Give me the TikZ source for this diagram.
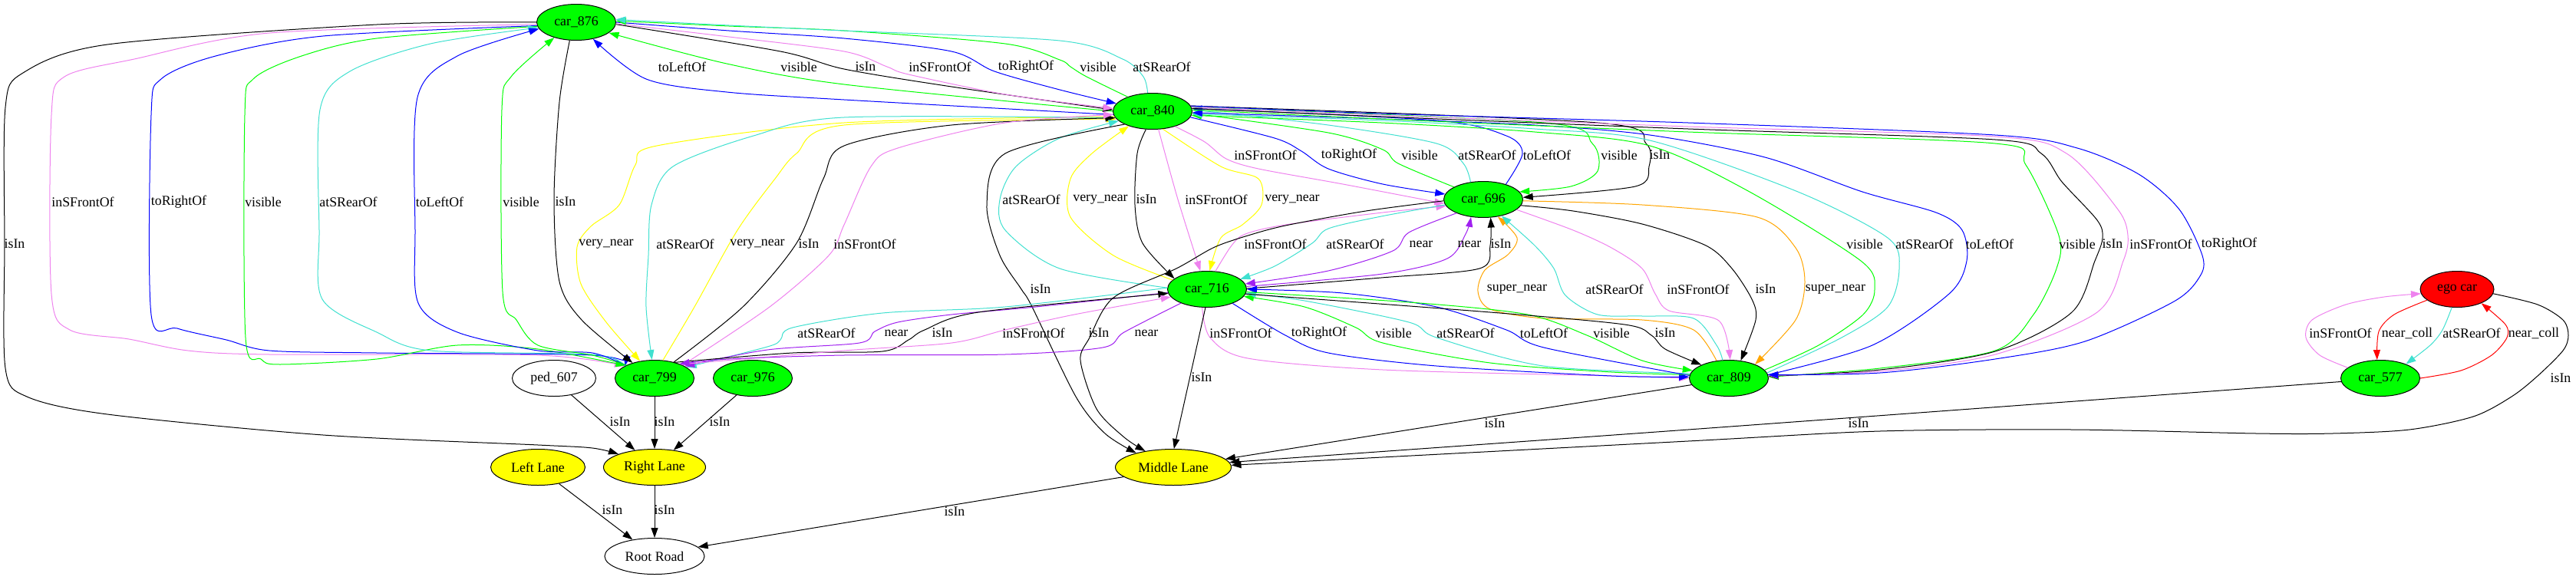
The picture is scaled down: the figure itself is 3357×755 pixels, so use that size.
\documentclass[tikz,border=0pt]{standalone}
\usepackage{fontspec}
\setmainfont{Liberation Serif}
\usetikzlibrary{shapes.geometric,arrows.meta}
\definecolor{grn}{RGB}{0,255,0}
\definecolor{blu}{RGB}{0,0,255}
\definecolor{vio}{RGB}{238,130,238}
\definecolor{tur}{RGB}{64,224,208}
\definecolor{yel}{RGB}{255,255,0}
\definecolor{pur}{RGB}{160,32,240}
\definecolor{org}{RGB}{255,165,0}
\definecolor{rd}{RGB}{255,0,0}
\newcommand\gvfont{\fontsize{17.8}{20}\selectfont}
\begin{document}
\begin{tikzpicture}[x=1pt,y=-1pt,
 rel/.style={line width=1pt,-{Triangle[length=13pt,width=9pt]}},
 lbl/.style={font=\gvfont, inner sep=0pt, anchor=center},
 gnode/.style={ellipse, draw, line width=1pt, minimum height=47pt, inner sep=0pt, font=\gvfont},
 car/.style={gnode, fill=grn, minimum width=103pt},
 lane/.style={gnode, fill=yel},
 wnode/.style={gnode, fill=white},
 egon/.style={gnode, fill=rd, minimum width=96pt}]
\useasboundingbox (0,0) rectangle (3357,755);
% nodes
\node[car] (n876) at (751,29) {car\_876};
\node[car] (n840) at (1502,145) {car\_840};
\node[car] (n696) at (1933,260) {car\_696};
\node[car] (n716) at (1573,377) {car\_716};
\node[car] (n799) at (853,493) {car\_799};
\node[wnode, minimum width=109pt] (n607) at (722,493) {ped\_607};
\node[car] (n976) at (981,493) {car\_976};
\node[car] (n809) at (2253,493) {car\_809};
\node[egon] (nego) at (3202,377) {ego car};
\node[car] (n577) at (3102,493) {car\_577};
\node[lane, minimum width=123pt] (nll) at (701,609) {Left Lane};
\node[lane, minimum width=133pt] (nrl) at (853,609) {Right Lane};
\node[lane, minimum width=151pt] (nml) at (1529,609) {Middle Lane};
\node[wnode, minimum width=130pt] (nroot) at (853,725) {Root Road};

% Bundle A: car_876 <-> car_799 (left)
\draw[rel,black] plot[smooth] coordinates {(n876.180) (491,32) (140,58) (30,95) (7,140) (6,318) (7,480) (35,517) (140,540) (421,567) (701,580) (772,584) (nrl.160)};
\draw[rel,vio] plot[smooth] coordinates {(n876.183) (351,43) (175,77) (84,100) (67,150) (67,383) (91,430) (168,442) (245,457) (351,462) (700,463) (n799.158)};
\draw[rel,blu] plot[smooth] coordinates {(n876.185) (421,47) (281,73) (210,103) (197,150) (197,410) (231,428) (295,443) (351,457) (491,460) (772,463) (n799.157)};
\draw[rel,grn] plot[smooth] coordinates {(n876.186) (491,50) (393,73) (330,103) (319,150) (320,440) (340,468) (365,475) (491,468) (596,450) (701,455) (n799.156)};
\draw[rel,tur] plot[smooth] coordinates {(n799.157) (772,462) (561,457) (491,433) (420,390) (416,300) (417,143) (456,93) (561,57) (n876.188)};
\draw[rel,blu] plot[smooth] coordinates {(n799.156) (772,460) (701,457) (596,433) (545,395) (541,300) (544,127) (596,73) (n876.190)};
\draw[rel,grn] plot[smooth] coordinates {(n799.155) (772,463) (701,450) (673,417) (655,380) (654,143) (666,100) (n876.215)};
\draw[rel,black] plot[smooth] coordinates {(n876.250) (729,133) (722,260) (729,367) (758,417) (n799.145)};
\node[lbl] (a1) at (19,318) {isIn};
\node[lbl] (a2) at (108,263) {inSFrontOf};
\node[lbl] (a3) at (233,263) {toRightOf};
\node[lbl] (a4) at (343,263) {visible};
\node[lbl] (a5) at (454,263) {atSRearOf};
\node[lbl] (a6) at (573,263) {toLeftOf};
\node[lbl] (a7) at (679,263) {visible};
\node[lbl] (a8) at (737,263) {isIn};

% Bundle B: car_876 <-> car_840 (top)
\draw[rel,blu] plot[smooth] coordinates {(n840.185) (1100,130) (947,120) (842,103) (n876.315)};
\draw[rel,grn] plot[smooth] coordinates {(n840.180) (1100,110) (947,83) (n876.342)};
\draw[rel,black] plot[smooth] coordinates {(n876.357) (1017,67) (1100,90) (1240,113) (n840.178)};
\draw[rel,vio] plot[smooth] coordinates {(n876.358) (950,48) (1100,67) (1156,87) (1184,97) (1310,123) (n840.176)};
\draw[rel,blu] plot[smooth] coordinates {(n876.0) (950,40) (1100,50) (1240,67) (1296,93) (1381,117) (n840.168)};
\draw[rel,grn] plot[smooth] coordinates {(n840.150) (1416,100) (1395,87) (1381,78) (1310,57) (1100,40) (950,34) (n876.2)};
\draw[rel,tur] plot[smooth] coordinates {(n840.105) (1490,100) (1463,77) (1381,53) (1100,40) (950,33) (n876.4)};
\node[lbl] (b1) at (889,87) {toLeftOf};
\node[lbl] (b2) at (1041,87) {visible};
\node[lbl] (b3) at (1128,87) {isIn};
\node[lbl] (b4) at (1225,87) {inSFrontOf};
\node[lbl] (b5) at (1337,87) {toRightOf};
\node[lbl] (b6) at (1431,87) {visible};
\node[lbl] (b7) at (1514,87) {atSRearOf};

% Bundle C: car_840 <-> car_799
\draw[rel,yel] plot[smooth] coordinates {(n840.188) (1100,160) (856,190) (828,215) (807,267) (770,295) (752,322) (757,370) (790,420) (n799.130)};
\draw[rel,tur] plot[smooth] coordinates {(n840.190) (1100,153) (982,177) (877,217) (849,267) (845,333) (842,400) (n799.98)};
\draw[rel,yel] plot[smooth] coordinates {(n799.65) (905,400) (961,300) (1010,233) (1038,200) (1100,163) (n840.192)};
\draw[rel,black] plot[smooth] coordinates {(n799.40) (968,400) (1038,317) (1073,233) (1100,190) (1240,163) (n840.190)};
\draw[rel,vio] plot[smooth] coordinates {(n799.25) (1003,400) (1080,333) (1100,293) (1135,217) (1170,193) (1310,160) (n840.185)};
\node[lbl] (c1) at (790,318) {very\_near};
\node[lbl] (c2) at (893,318) {atSRearOf};
\node[lbl] (c3) at (987,318) {very\_near};
\node[lbl] (c4) at (1054,318) {isIn};
\node[lbl] (c5) at (1127,318) {inSFrontOf};

% Bundle D: car_840 <-> car_716, car_840 -> Middle Lane
\draw[rel,tur] plot[smooth] coordinates {(n716.178) (1381,350) (1310,300) (1303,260) (1324,217) (1381,180) (n840.196)};
\draw[rel,yel] plot[smooth] coordinates {(n716.165) (1451,333) (1395,283) (1395,233) (1423,200) (n840.212)};
\draw[rel,black] plot[smooth] coordinates {(n840.250) (1482,200) (1479,267) (1489,317) (n716.162)};
\draw[rel,vio] plot[smooth] coordinates {(n840.288) (1535,260) (n716.110)};
\draw[rel,yel] plot[smooth] coordinates {(n840.300) (1591,217) (1640,233) (1644,267) (1619,293) (1591,310) (n716.82)};
\draw[rel,black] plot[smooth] coordinates {(n840.205) (1310,200) (1286,267) (1303,333) (1331,377) (1345,400) (1402,517) (1440,565) (nml.159)};
\node[lbl] (d1) at (1344,260) {atSRearOf};
\node[lbl] (d2) at (1434,260) {very\_near};
\node[lbl] (d3) at (1494,260) {isIn};
\node[lbl] (d4) at (1585,260) {inSFrontOf};
\node[lbl] (d5) at (1684,260) {very\_near};
\node[lbl] (d6) at (1356,377) {isIn};

% Bundle E: car_840 <-> car_696
\draw[rel,vio] plot[smooth] coordinates {(n840.326) (1570,185) (1598,207) (1640,220) (1750,240) (n696.186)};
\draw[rel,blu] plot[smooth] coordinates {(n840.351) (1661,180) (1696,197) (1731,220) (1802,240) (n696.172)};
\draw[rel,grn] plot[smooth] coordinates {(n696.157) (1822,213) (1802,195) (1731,173) (n840.357)};
\draw[rel,tur] plot[smooth] coordinates {(n696.126) (1907,213) (1872,187) (1731,163) (n840.2)};
\draw[rel,blu] plot[smooth] coordinates {(n696.34) (1984,200) (1963,177) (1872,157) (n840.4)};
\draw[rel,grn] plot[smooth] coordinates {(n840.6) (2012,160) (2075,187) (2082,223) (2047,243) (n696.12)};
\draw[rel,black] plot[smooth] coordinates {(n840.8) (2082,160) (2145,187) (2149,217) (2131,243) (n696.3)};
\node[lbl] (e1) at (1649,202) {inSFrontOf};
\node[lbl] (e2) at (1758,202) {toRightOf};
\node[lbl] (e3) at (1850,202) {visible};
\node[lbl] (e4) at (1938,202) {atSRearOf};
\node[lbl] (e5) at (2016,202) {toLeftOf};
\node[lbl] (e6) at (2110,202) {visible};
\node[lbl] (e7) at (2163,202) {isIn};

% Bundle F: car_840 <-> car_809 (right loops)
\draw[rel,grn] plot[smooth] coordinates {(n809.13) (2370,450) (2428,410) (2443,377) (2425,340) (2280,250) (2150,190) (2000,172) (1800,160) (n840.354)};
\draw[rel,tur] plot[smooth] coordinates {(n809.8) (2400,440) (2460,400) (2475,350) (2460,310) (2343,250) (2150,183) (2000,168) (1800,157) (n840.356)};
\draw[rel,blu] plot[smooth] coordinates {(n809.5) (2440,450) (2540,383) (2563,340) (2557,300) (2523,277) (2427,250) (2300,205) (2150,176) (2000,163) (1800,155) (n840.358)};
\draw[rel,grn] plot[smooth] coordinates {(n840.2) (1800,155) (2200,172) (2600,187) (2640,215) (2683,307) (2680,350) (2650,410) (2600,457) (2450,480) (n809.2)};
\draw[rel,black] plot[smooth] coordinates {(n840.4) (1800,152) (2200,168) (2600,182) (2660,200) (2687,237) (2733,287) (2740,310) (2730,340) (2700,407) (2600,458) (2450,482) (n809.3)};
\draw[rel,vio] plot[smooth] coordinates {(n840.6) (1800,150) (2200,165) (2600,178) (2693,200) (2760,273) (2773,307) (2767,340) (2733,407) (2600,462) (2450,484) (n809.4)};
\draw[rel,blu] plot[smooth] coordinates {(n840.8) (1800,148) (2200,160) (2600,176) (2707,193) (2787,227) (2840,273) (2870,333) (2867,360) (2833,393) (2717,445) (2600,468) (2450,486) (n809.5)};
\node[lbl] (f1) at (2430,318) {visible};
\node[lbl] (f2) at (2508,318) {atSRearOf};
\node[lbl] (f3) at (2593,318) {toLeftOf};
\node[lbl] (f4) at (2707,318) {visible};
\node[lbl] (f5) at (2753,318) {isIn};
\node[lbl] (f6) at (2816,318) {inSFrontOf};
\node[lbl] (f7) at (2905,318) {toRightOf};

% Bundle G: car_696 <-> car_809
\draw[rel,org] plot[smooth] coordinates {(n809.125) (2207,430) (2140,417) (2012,415) (1942,403) (1926,380) (1935,352) (1965,332) (1977,310) (n696.310)};
\draw[rel,tur] plot[smooth] coordinates {(n809.109) (2237,450) (2207,415) (2140,412) (2082,410) (2040,385) (2025,350) (2000,320) (n696.318)};
\draw[rel,vio] plot[smooth] coordinates {(n696.343) (2050,300) (2100,323) (2140,350) (2157,383) (2175,405) (2240,418) (n809.86)};
\draw[rel,black] plot[smooth] coordinates {(n696.351) (2050,275) (2140,292) (2223,320) (2257,350) (2283,390) (2288,417) (n809.56)};
\draw[rel,org] plot[smooth] coordinates {(n696.358) (2140,267) (2290,283) (2340,323) (2352,367) (2340,417) (n809.28)};
\node[lbl] (g1) at (1977,377) {super\_near};
\node[lbl] (g2) at (2104,377) {atSRearOf};
\node[lbl] (g3) at (2213,377) {inSFrontOf};
\node[lbl] (g4) at (2301,377) {isIn};
\node[lbl] (g5) at (2392,377) {super\_near};

% Bundle H: car_716 <-> car_696
\draw[rel,vio] plot[smooth] coordinates {(n716.65) (1605,320) (1623,305) (1675,293) (1802,277) (n696.190)};
\draw[rel,tur] plot[smooth] coordinates {(n696.188) (1800,282) (1731,298) (1710,317) (1661,347) (n716.17)};
\draw[rel,pur] plot[smooth] coordinates {(n696.207) (1836,303) (1815,327) (1731,353) (n716.8)};
\draw[rel,pur] plot[smooth] coordinates {(n716.4) (1802,357) (1886,337) (1910,305) (n696.235)};
\draw[rel,black] plot[smooth] coordinates {(n716.1) (1800,362) (1928,350) (1942,320) (n696.292)};
\node[lbl] (h1) at (1662,318) {inSFrontOf};
\node[lbl] (h2) at (1766,318) {atSRearOf};
\node[lbl] (h3) at (1852,318) {near};
\node[lbl] (h4) at (1915,318) {near};
\node[lbl] (h5) at (1956,318) {isIn};

% Bundle I: car_716 <-> car_809
\draw[rel,vio] plot[smooth] coordinates {(n716.255) (1577,440) (1626,467) (1802,482) (2100,490) (n809.180)};
\draw[rel,blu] plot[smooth] coordinates {(n716.331) (1675,437) (1731,460) (1872,477) (2100,490) (n809.178)};
\draw[rel,grn] plot[smooth] coordinates {(n809.175) (2100,485) (1942,473) (1802,447) (1767,427) (1700,400) (n716.349)};
\draw[rel,tur] plot[smooth] coordinates {(n809.173) (2011,477) (1872,440) (1836,420) (1700,392) (n716.354)};
\draw[rel,blu] plot[smooth] coordinates {(n809.176) (2012,453) (1963,430) (1872,400) (1750,382) (n716.0)};
\draw[rel,grn] plot[smooth] coordinates {(n716.356) (1850,395) (1991,410) (2068,437) (2140,470) (n809.168)};
\draw[rel,black] plot[smooth] coordinates {(n716.353) (1942,407) (2117,423) (2152,437) (2170,455) (n809.154)};
\node[lbl] (i1) at (1617,434) {inSFrontOf};
\node[lbl] (i2) at (1719,434) {toRightOf};
\node[lbl] (i3) at (1816,434) {visible};
\node[lbl] (i4) at (1910,434) {atSRearOf};
\node[lbl] (i5) at (2012,434) {toLeftOf};
\node[lbl] (i6) at (2100,434) {visible};
\node[lbl] (i7) at (2170,434) {isIn};

% Bundle J: car_716 <-> car_799
\draw[rel,tur] plot[smooth] coordinates {(n716.178) (1310,400) (1150,408) (1033,427) (1017,443) (1000,452) (n799.19)};
\draw[rel,pur] plot[smooth] coordinates {(n716.185) (1350,400) (1240,410) (1170,420) (1140,432) (1120,447) (1000,456) (n799.22)};
\draw[rel,black] plot[smooth] coordinates {(n799.38) (1033,460) (1150,458) (1184,443) (1205,430) (1275,407) (n716.186)};
\draw[rel,vio] plot[smooth] coordinates {(n799.28) (1100,457) (1240,447) (1310,430) (1400,410) (n716.192)};
\draw[rel,pur] plot[smooth] coordinates {(n716.208) (1465,433) (1437,453) (1310,462) (1100,463) (950,468) (n799.30)};
\node[lbl] (j1) at (1077,434) {atSRearOf};
\node[lbl] (j2) at (1168,434) {near};
\node[lbl] (j3) at (1228,434) {isIn};
\node[lbl] (j4) at (1347,434) {inSFrontOf};
\node[lbl] (j5) at (1494,434) {near};

% Lanes
\draw[rel,black] plot[smooth] coordinates {(n696.182) (1780,275) (1680,293) (1633,305) (1583,322) (1533,350) (1451,388) (1420,440) (1408,470) (1429,533) (1465,570) (nml.150)};
\draw[rel,black] (n716.265) -- (nml.88);
\draw[rel,black] (n809.190) -- (nml.9);
\draw[rel,black] plot[smooth] coordinates {(n577.185) (2200,560) (nml.5)};
\draw[rel,black] plot[smooth] coordinates {(nego.353) (3307,397) (3340,417) (3347,437) (3340,457) (3307,490) (3273,517) (3223,543) (3140,560) (3040,565) (2940,565) (2700,560) (2450,562) (2200,575) (nml.2)};
\draw[rel,black] (nml.191) -- (nroot.12);
\draw[rel,black] (n607.316) -- (nrl.139);
\draw[rel,black] (n799.270) -- (nrl.90);
\draw[rel,black] (n976.226) -- (nrl.42);
\draw[rel,black] (nll.322) -- (nroot.143);
\draw[rel,black] (nrl.270) -- (nroot.90);
\node[lbl] (k1) at (1432,434) {isIn};
\node[lbl] (k2) at (1566,492) {isIn};
\node[lbl] (k3) at (1948,552) {isIn};
\node[lbl] (k4) at (2422,552) {isIn};
\node[lbl] (k5) at (3337,493) {isIn};
\node[lbl] (k6) at (1244,667) {isIn};
\node[lbl] (k7) at (808,550) {isIn};
\node[lbl] (k8) at (866,550) {isIn};
\node[lbl] (k9) at (938,550) {isIn};
\node[lbl] (k10) at (798,665) {isIn};
\node[lbl] (k11) at (866,665) {isIn};

% ego car <-> car_577
\draw[rel,vio] plot[smooth] coordinates {(n577.162) (3023,463) (3005,440) (3013,417) (3057,397) (3107,387) (nego.187)};
\draw[rel,rd] plot[smooth] coordinates {(nego.200) (3120,410) (3100,432) (n577.100)};
\draw[rel,tur] plot[smooth] coordinates {(nego.254) (3183,430) (3167,450) (n577.29)};
\draw[rel,rd] plot[smooth] coordinates {(n577.0) (3207,483) (3247,463) (3267,440) (3265,423) (nego.330)};
\node[lbl] (m1) at (3050,434) {inSFrontOf};
\node[lbl] (m2) at (3137,434) {near\_coll};
\node[lbl] (m3) at (3221,434) {atSRearOf};
\node[lbl] (m4) at (3302,434) {near\_coll};
\end{tikzpicture}
\end{document}
